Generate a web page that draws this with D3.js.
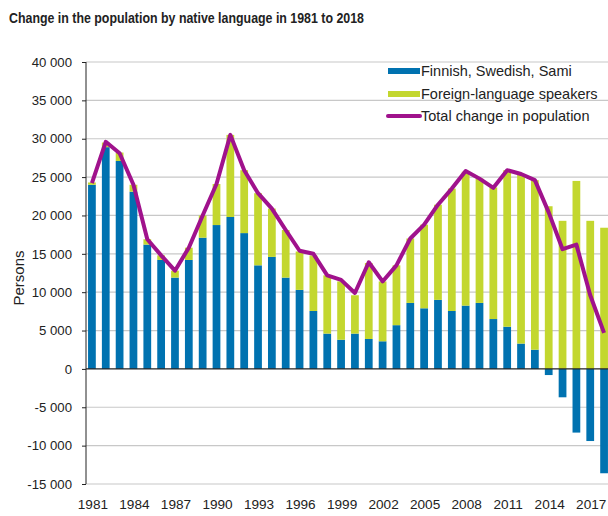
<!DOCTYPE html>
<html>
<head>
<meta charset="utf-8">
<script src="https://cdn.jsdelivr.net/npm/d3@7"></script>
<style>
  body { margin: 0; background: #fff; }
  svg text { font-family: "Liberation Sans", Arial, sans-serif; fill: #222; }
</style>
</head>
<body>
<div id="chart"></div>
<script>
// population change by native language, 1981-2018 (thousands)
var years = d3.range(1981, 2019);

var nativeSpeakers = [24.0, 28.9, 27.1, 23.1, 16.2, 14.2, 11.9, 14.2, 17.1, 18.75,
  19.8, 17.7, 13.5, 14.6, 11.9, 10.3, 7.55, 4.6, 3.8, 4.6,
  3.9, 3.6, 5.7, 8.6, 7.9, 9.0, 7.55, 8.25, 8.6, 6.5,
  5.5, 3.3, 2.5, -0.8, -3.7, -8.3, -9.4, -13.6];

var foreignSpeakers = [0.3, 0.6, 1.1, 0.9, 0.7, 0.6, 0.9, 1.6, 2.9, 5.35,
  10.7, 8.2, 9.4, 6.3, 6.2, 5.0, 7.25, 7.6, 7.6, 5.0,
  9.9, 7.8, 7.8, 8.4, 10.9, 12.4, 15.95, 17.45, 16.2, 17.15,
  20.4, 22.0, 22.1, 21.2, 19.3, 24.5, 19.3, 18.4];

var totalChange = [24.2, 29.6, 28.1, 24.0, 16.9, 14.8, 12.8, 15.8, 20.0, 24.1,
  30.5, 25.9, 22.9, 20.9, 18.1, 15.4, 15.0, 12.2, 11.6, 9.9,
  13.9, 11.4, 13.5, 17.0, 18.8, 21.4, 23.5, 25.8, 24.8, 23.6,
  25.9, 25.4, 24.6, 20.4, 15.6, 16.2, 9.6, 4.7];

var yTicks = [-15000, -10000, -5000, 0, 5000, 10000, 15000, 20000, 25000, 30000, 35000, 40000];
var xTickYears = [1981, 1984, 1987, 1990, 1993, 1996, 1999, 2002, 2005, 2008, 2011, 2014, 2017];

var legendItems = ["Finnish, Swedish, Sami", "Foreign-language speakers", "Total change in population"];

var blue = "#0072b0", green = "#c3d72f", purple = "#a0128c";

(function () {
var width = 608, height = 516;

var svg = d3.select("#chart").append("svg")
    .attr("width", width)
    .attr("height", height);

var x = d3.scaleBand()
    .domain(years)
    .range([85, 611])
    .paddingInner(0.44)
    .paddingOuter(0.22);

var y = d3.scaleLinear()
    .domain([-15000, 40000])
    .range([484, 62]);

var locale = d3.formatLocale({decimal: ".", thousands: " ", grouping: [3], currency: ["", ""], minus: "-"});
var fmt = locale.format(",");

// title (narrow bold in the original)
svg.append("text")
    .attr("x", 9)
    .attr("y", 23)
    .attr("textLength", 355)
    .attr("lengthAdjust", "spacingAndGlyphs")
    .style("font-size", "15px")
    .style("font-weight", "bold")
    .text("Change in the population by native language in 1981 to 2018");

// grid
svg.append("g").selectAll("line")
    .data(yTicks.filter(function(d) { return d !== 0; }))
  .enter().append("line")
    .attr("x1", 86).attr("x2", width)
    .attr("y1", function(d) { return y(d); })
    .attr("y2", function(d) { return y(d); })
    .attr("stroke", "#c8c8c8")
    .attr("stroke-width", 1.2);

// bars
var bars = svg.append("g");
years.forEach(function(yr, i) {
  var n = nativeSpeakers[i] * 1000, f = foreignSpeakers[i] * 1000;
  var base = Math.max(0, n);
  bars.append("rect")
      .attr("x", x(yr))
      .attr("width", x.bandwidth())
      .attr("y", y(Math.max(0, n)))
      .attr("height", Math.abs(y(n) - y(0)))
      .attr("fill", blue);
  bars.append("rect")
      .attr("x", x(yr))
      .attr("width", x.bandwidth())
      .attr("y", y(base + f))
      .attr("height", y(base) - y(base + f))
      .attr("fill", green);
});

// zero line
svg.append("line")
    .attr("x1", 86).attr("x2", width)
    .attr("y1", y(0)).attr("y2", y(0))
    .attr("stroke", "#222")
    .attr("stroke-width", 1.3);

// total line
var line = d3.line()
    .x(function(d, i) { return x(years[i]) + x.bandwidth() / 2; })
    .y(function(d) { return y(d * 1000); });

svg.append("path")
    .datum(totalChange)
    .attr("d", line)
    .attr("fill", "none")
    .attr("stroke", purple)
    .attr("stroke-width", 4)
    .attr("stroke-linejoin", "round");

// y axis
var yAxis = d3.axisLeft(y)
    .tickValues(yTicks)
    .tickSize(4)
    .tickPadding(10)
    .tickFormat(fmt);

var gy = svg.append("g")
    .attr("transform", "translate(86,0)")
    .call(yAxis);
gy.select(".domain").attr("stroke", "#222").attr("d", "M0,62V484");
gy.selectAll(".tick line").attr("stroke", "#222");
gy.selectAll("text")
    .style("font-size", "13.2px")
    .attr("fill", "#222");

svg.append("text")
    .attr("transform", "translate(24,278) rotate(-90)")
    .attr("text-anchor", "middle")
    .style("font-size", "15px")
    .text("Persons");

// x labels
svg.append("g").selectAll("text")
    .data(xTickYears)
  .enter().append("text")
    .attr("x", function(d) { return x(d) + x.bandwidth() / 2 + 1; })
    .attr("y", 509)
    .attr("text-anchor", "middle")
    .style("font-size", "13.6px")
    .text(function(d) { return d; });

// legend
var legend = svg.append("g");
var rowY = [71, 94, 116];
legend.append("rect").attr("x", 388).attr("y", rowY[0] - 3).attr("width", 32).attr("height", 6).attr("fill", blue);
legend.append("rect").attr("x", 388).attr("y", rowY[1] - 3).attr("width", 32).attr("height", 6).attr("fill", green);
legend.append("line").attr("x1", 388).attr("x2", 420).attr("y1", rowY[2]).attr("y2", rowY[2])
    .attr("stroke", purple).attr("stroke-width", 4).attr("stroke-linecap", "round");
legend.selectAll("text.lg")
    .data(legendItems)
  .enter().append("text")
    .attr("class", "lg")
    .attr("x", 421)
    .attr("y", function(d, i) { return rowY[i] + 5; })
    .style("font-size", "14.5px")
    .text(function(d) { return d; });
})();
</script>
</body>
</html>
